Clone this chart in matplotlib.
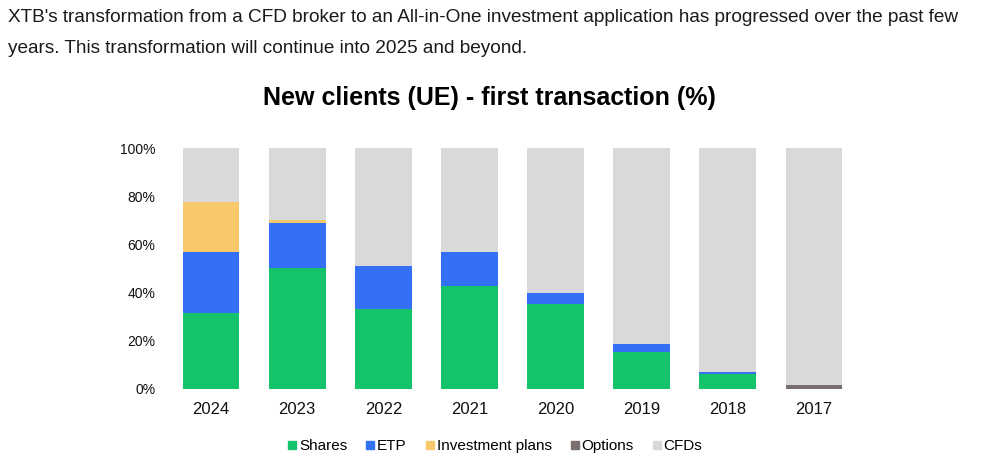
import matplotlib
matplotlib.use("Agg")
import matplotlib.pyplot as plt
from matplotlib.lines import Line2D
import numpy as np

plt.rcParams['font.family'] = ['Liberation Sans', 'DejaVu Sans']

years = ['2024', '2023', '2022', '2021', '2020', '2019', '2018', '2017']
shares = [31.7, 50.1, 33.4, 42.9, 35.4, 15.2, 6.1, 0.0]
etp = [25.0, 18.6, 17.8, 14.1, 4.3, 3.4, 1.1, 0.0]
plans = [21.1, 1.6, 0.0, 0.0, 0.0, 0.0, 0.0, 0.0]
options = [0.0, 0.0, 0.0, 0.0, 0.0, 0.0, 0.0, 1.7]
series_names = ['Shares', 'ETP', 'Investment plans', 'Options', 'CFDs']
colors = ['#15C46A', '#3470F5', '#F7C96A', '#7B6E6E', '#D9D9D9']

cfds = [100 - (a + b + c + d) for a, b, c, d in zip(shares, etp, plans, options)]
all_series = [shares, etp, plans, options, cfds]

fig = plt.figure(figsize=(9.98, 4.74), dpi=100)
ax = fig.add_axes([168/998, 1-389/474, (857-168)/998, (389-148)/474])

x = np.arange(len(years))
bottom = np.zeros(len(years))
for vals, col in zip(all_series, colors):
    v = np.array(vals) / 100.0
    ax.bar(x, v, width=0.66, bottom=bottom, color=col, edgecolor='none', linewidth=0)
    bottom += v

ax.set_xlim(-0.5, len(years) - 0.5)
ax.set_ylim(0, 1.0)
ax.set_yticks([0, 0.2, 0.4, 0.6, 0.8, 1.0])
ax.set_yticklabels(['0%', '20%', '40%', '60%', '80%', '100%'], fontsize=10, color='#111111')
ax.set_xticks(x)
ax.set_xticklabels(years, fontsize=12, color='#111111')
ax.tick_params(axis='both', length=0)
ax.tick_params(axis='y', pad=9)
ax.tick_params(axis='x', pad=9)
for s in ax.spines.values():
    s.set_visible(False)

fig.text(8/998, 1-22/474,
         "XTB's transformation from a CFD broker to an All-in-One investment application has progressed over the past few",
         fontsize=13.7, color='#1a1a1a', ha='left', va='baseline')
fig.text(8/998, 1-53/474,
         "years. This transformation will continue into 2025 and beyond.",
         fontsize=13.7, color='#1a1a1a', ha='left', va='baseline')
fig.text(489.5/998, 1-105.5/474, "New clients (UE) - first transaction (%)",
         fontsize=18, fontweight='bold', color='black', ha='center', va='baseline')

handles = [Line2D([0], [0], marker='s', linestyle='none', markersize=6,
                  markerfacecolor=c, markeredgecolor=c) for c in colors]
fig.legend(handles, series_names, loc='center', bbox_to_anchor=(495/998, 1-446/474),
           ncol=5, frameon=False, fontsize=11, handlelength=0.6, handletextpad=0.15,
           columnspacing=1.2, borderpad=0)

fig.savefig('out.png', dpi=100)
